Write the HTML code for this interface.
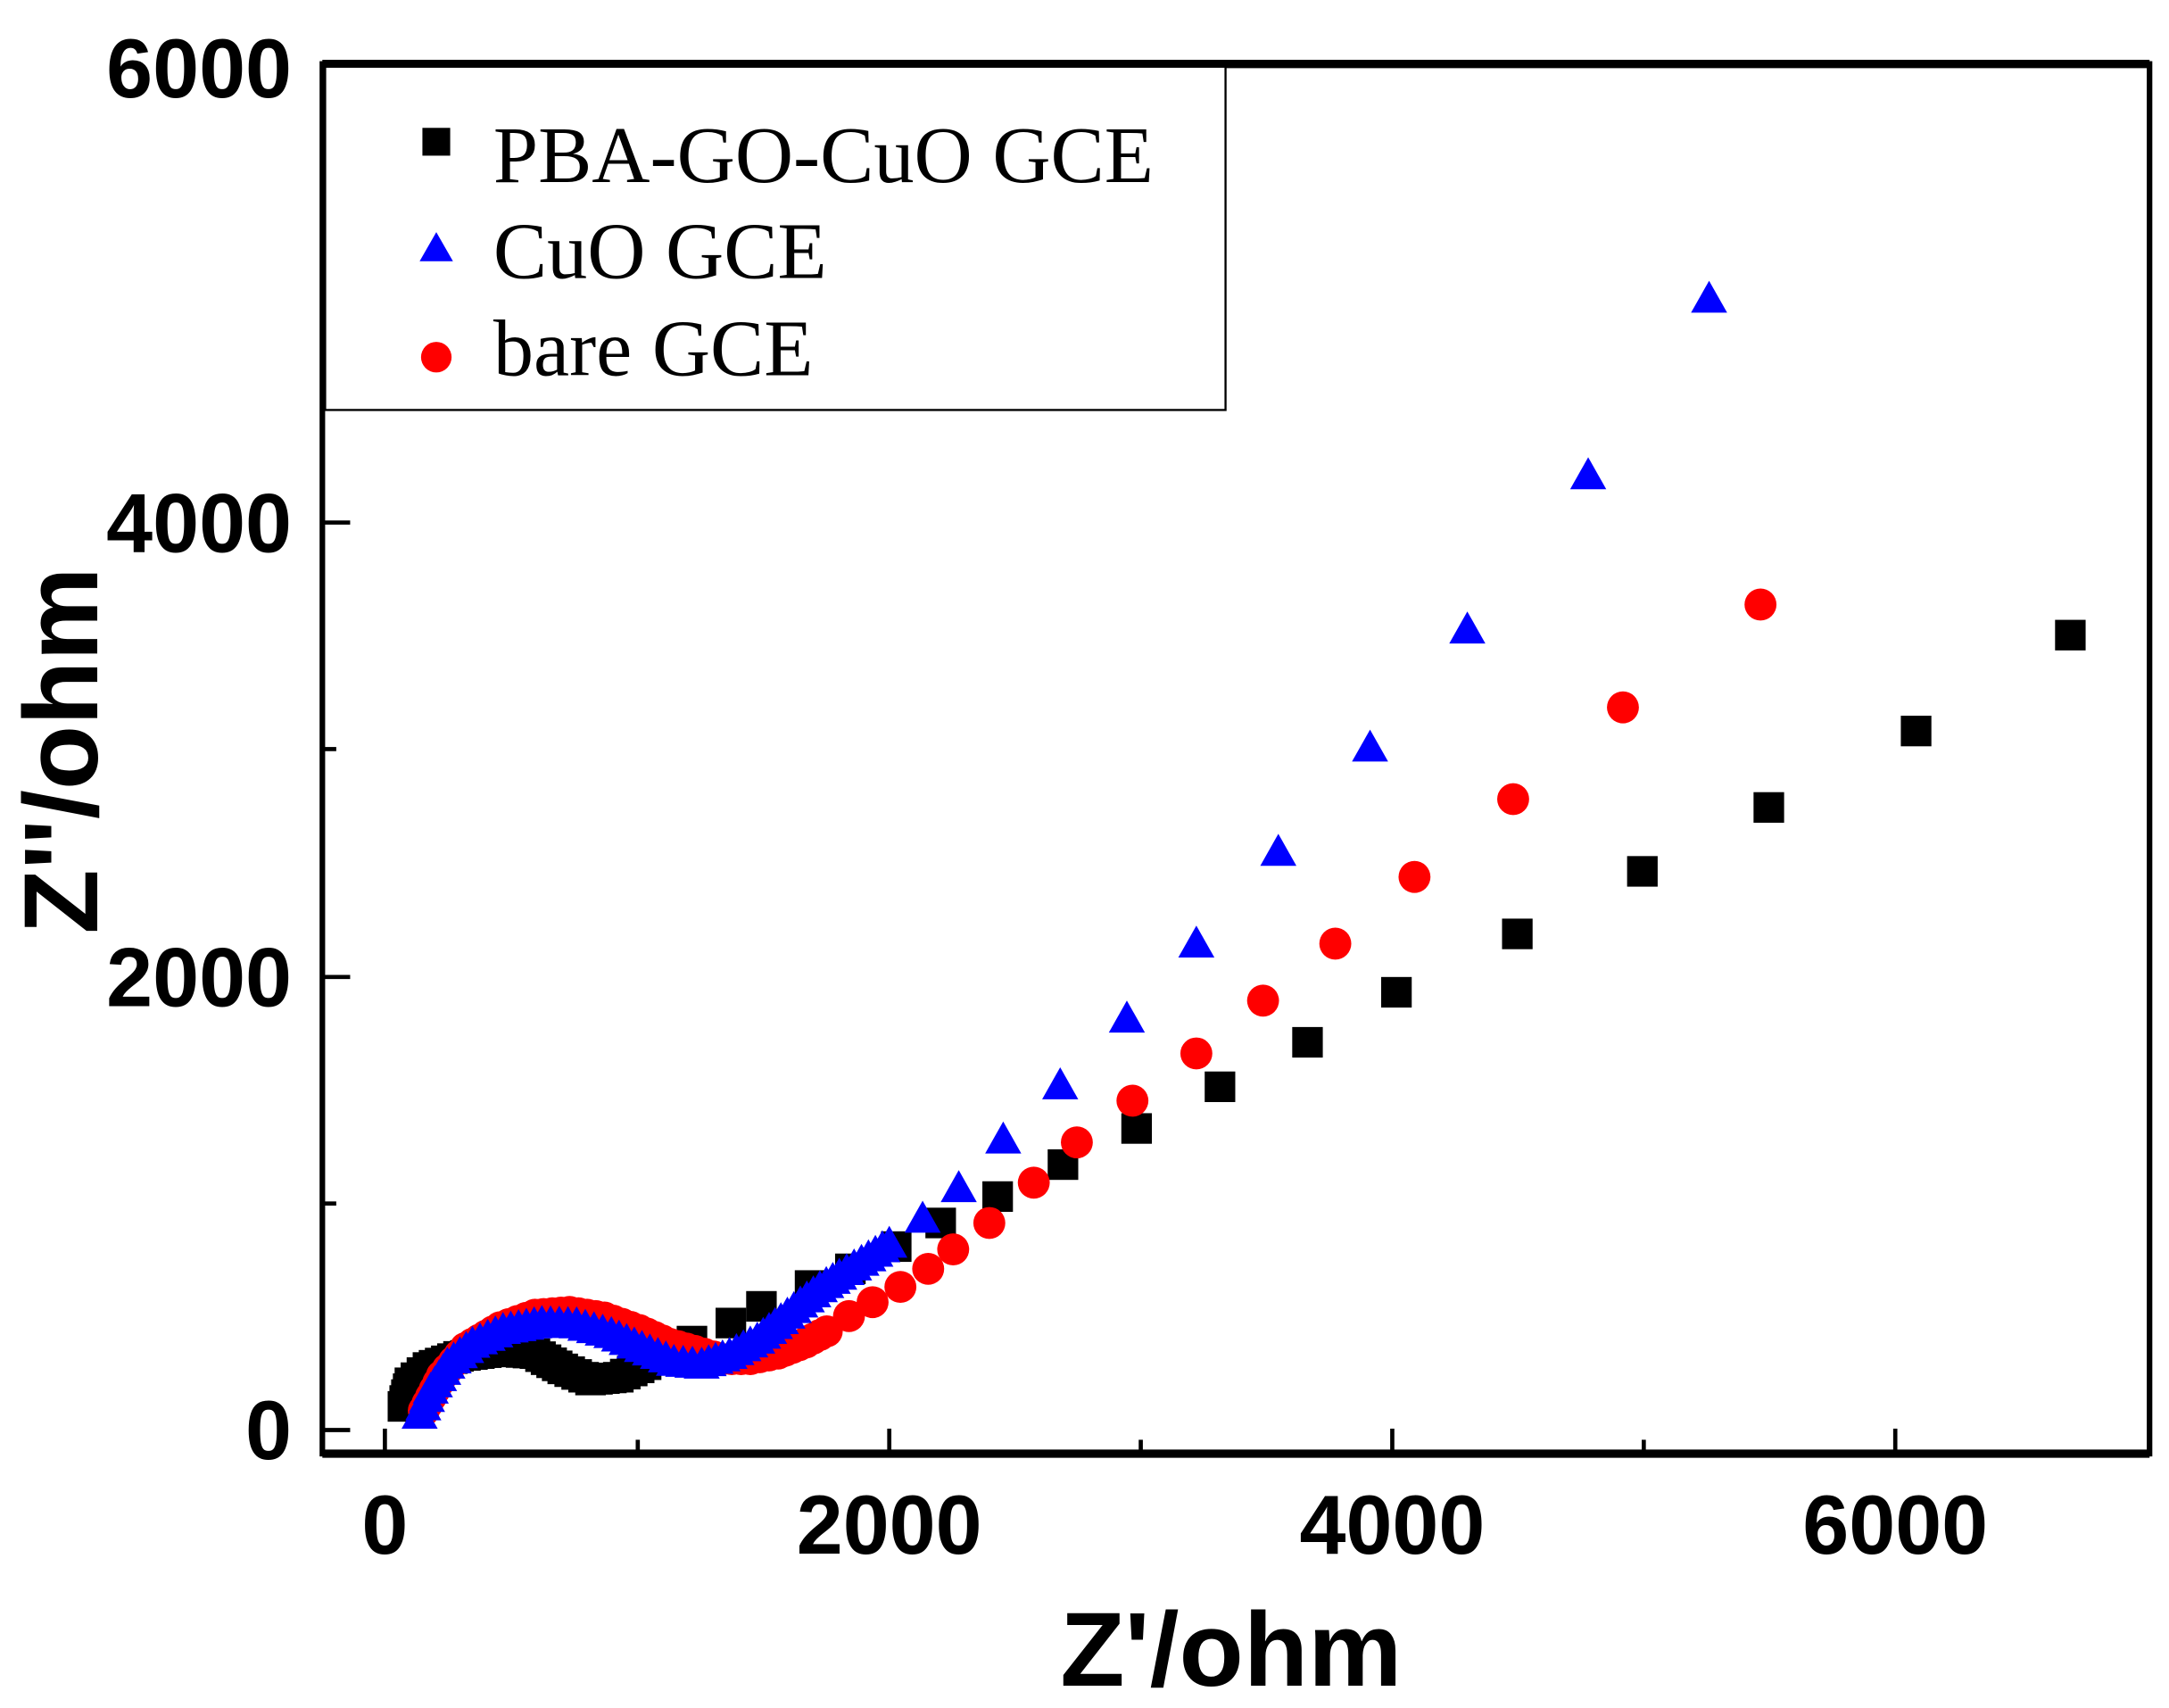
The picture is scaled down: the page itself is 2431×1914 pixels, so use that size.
<!DOCTYPE html>
<html><head><meta charset="utf-8"><style>
html,body{margin:0;padding:0;background:#fff;}
svg{display:block;}
.t{font-family:"Liberation Sans",sans-serif;font-weight:bold;fill:#000;}
.l{font-family:"Liberation Serif",serif;fill:#000;}
</style></head><body>
<svg id="s" width="2431" height="1914" viewBox="0 0 1561 1229" xmlns="http://www.w3.org/2000/svg">
<rect width="1561" height="1229" fill="#fff"/>
<g id="pts"></g>
<rect x="232" y="46" width="1315" height="1000" fill="none" stroke="#000" stroke-width="4"/>
<line x1="232" y1="1046" x2="1547" y2="1046" stroke="#000" stroke-width="6"/>
<line x1="232" y1="46" x2="1547" y2="46" stroke="#000" stroke-width="6"/>
<g stroke="#000" stroke-width="3">
<line x1="277" y1="1046" x2="277" y2="1028"/><line x1="459" y1="1046" x2="459" y2="1036"/>
<line x1="640" y1="1046" x2="640" y2="1028"/><line x1="821" y1="1046" x2="821" y2="1036"/>
<line x1="1002" y1="1046" x2="1002" y2="1028"/><line x1="1183" y1="1046" x2="1183" y2="1036"/>
<line x1="1364" y1="1046" x2="1364" y2="1028"/>
<line x1="232" y1="1029" x2="252" y2="1029"/><line x1="232" y1="866" x2="242" y2="866"/>
<line x1="232" y1="703" x2="252" y2="703"/><line x1="232" y1="539" x2="242" y2="539"/>
<line x1="232" y1="376" x2="252" y2="376"/><line x1="232" y1="212" x2="242" y2="212"/>
</g>
<g class="t" font-size="60" text-anchor="middle">
<text x="277" y="1118">0</text><text x="640" y="1118">2000</text>
<text x="1002" y="1118">4000</text><text x="1364" y="1118">6000</text>
</g>
<g class="t" font-size="60" text-anchor="end">
<text x="210" y="1050">0</text><text x="210" y="724">2000</text>
<text x="210" y="397">4000</text><text x="210" y="70">6000</text>
</g>
<text class="t" x="886" y="1213" font-size="76" text-anchor="middle">Z'/ohm</text>
<text class="t" font-size="76" text-anchor="middle" transform="translate(70,540) rotate(-90)">Z''/ohm</text>
<rect x="234" y="48" width="648" height="247" fill="#fff" stroke="#000" stroke-width="1.5"/>
<rect x="304" y="92" width="20" height="20" fill="#000"/>
<polygon points="314,167 302,188 326,188" fill="#00f"/>
<circle cx="314" cy="257" r="11" fill="#f00"/>
<g class="l" font-size="58">
<text x="355" y="131">PBA-GO-CuO GCE</text>
<text x="355" y="200">CuO GCE</text>
<text x="355" y="270">bare GCE</text>
</g>
</svg>
<script>
var g=document.getElementById('pts'),NS='http://www.w3.org/2000/svg';
function interp(pts,step){var o=[];for(var i=0;i<pts.length-1;i++){var a=pts[i],b=pts[i+1],d=Math.hypot(b[0]-a[0],b[1]-a[1]),n=Math.max(1,Math.round(d/step));for(var k=0;k<n;k++)o.push([a[0]+(b[0]-a[0])*k/n,a[1]+(b[1]-a[1])*k/n]);}o.push(pts[pts.length-1]);return o;}
function sq(p){var r=document.createElementNS(NS,'rect');r.setAttribute('x',p[0]-11);r.setAttribute('y',p[1]-11);r.setAttribute('width',22);r.setAttribute('height',22);r.setAttribute('fill','#000');g.appendChild(r);}
function tri(p){var r=document.createElementNS(NS,'polygon');r.setAttribute('points',p[0]+','+(p[1]-13)+' '+(p[0]-13)+','+(p[1]+10)+' '+(p[0]+13)+','+(p[1]+10));r.setAttribute('fill','#00f');g.appendChild(r);}
function cir(p){var r=document.createElementNS(NS,'circle');r.setAttribute('cx',p[0]);r.setAttribute('cy',p[1]);r.setAttribute('r',11.5);r.setAttribute('fill','#f00');g.appendChild(r);}
interp([[290,1012],[295,995],[308,984],[330,976],[360,972],[385,974],[405,985],[425,993],[445,991],[465,982]],5).forEach(sq);
[[498,965],[526,952],[548,940],[583,925],[612,913],[645,897],[677,880],[718,861],[765,838],[818,812],[878,782],[941,750],[1005,714],[1092,672],[1182,627],[1273,581],[1379,526],[1490,457]].forEach(sq);
interp([[305,1015],[318,990],[335,970],[360,955],[385,946],[410,944],[435,948],[460,957],[482,967],[500,972],[520,978],[540,978],[560,974],[580,966],[595,958]],6).forEach(cir);
[[611,947],[628,937],[648,926],[668,913],[686,899],[712,880],[744,851],[775,822],[815,792],[861,758],[909,720],[961,679],[1018,631],[1089,575],[1168,509],[1267,435]].forEach(cir);
interp([[302,1018],[310,1000],[322,982],[340,967],[362,957],[390,952],[415,953],[440,960],[462,970],[485,980],[505,982],[525,975],[545,964],[562,950],[576,938],[590,927],[604,918],[620,908],[640,895]],6).forEach(tri);
[[664,877],[690,855],[722,820],[763,781],[811,733],[861,679],[920,613],[986,538],[1056,453],[1143,342],[1230,215]].forEach(tri);
</script>
</body></html>
